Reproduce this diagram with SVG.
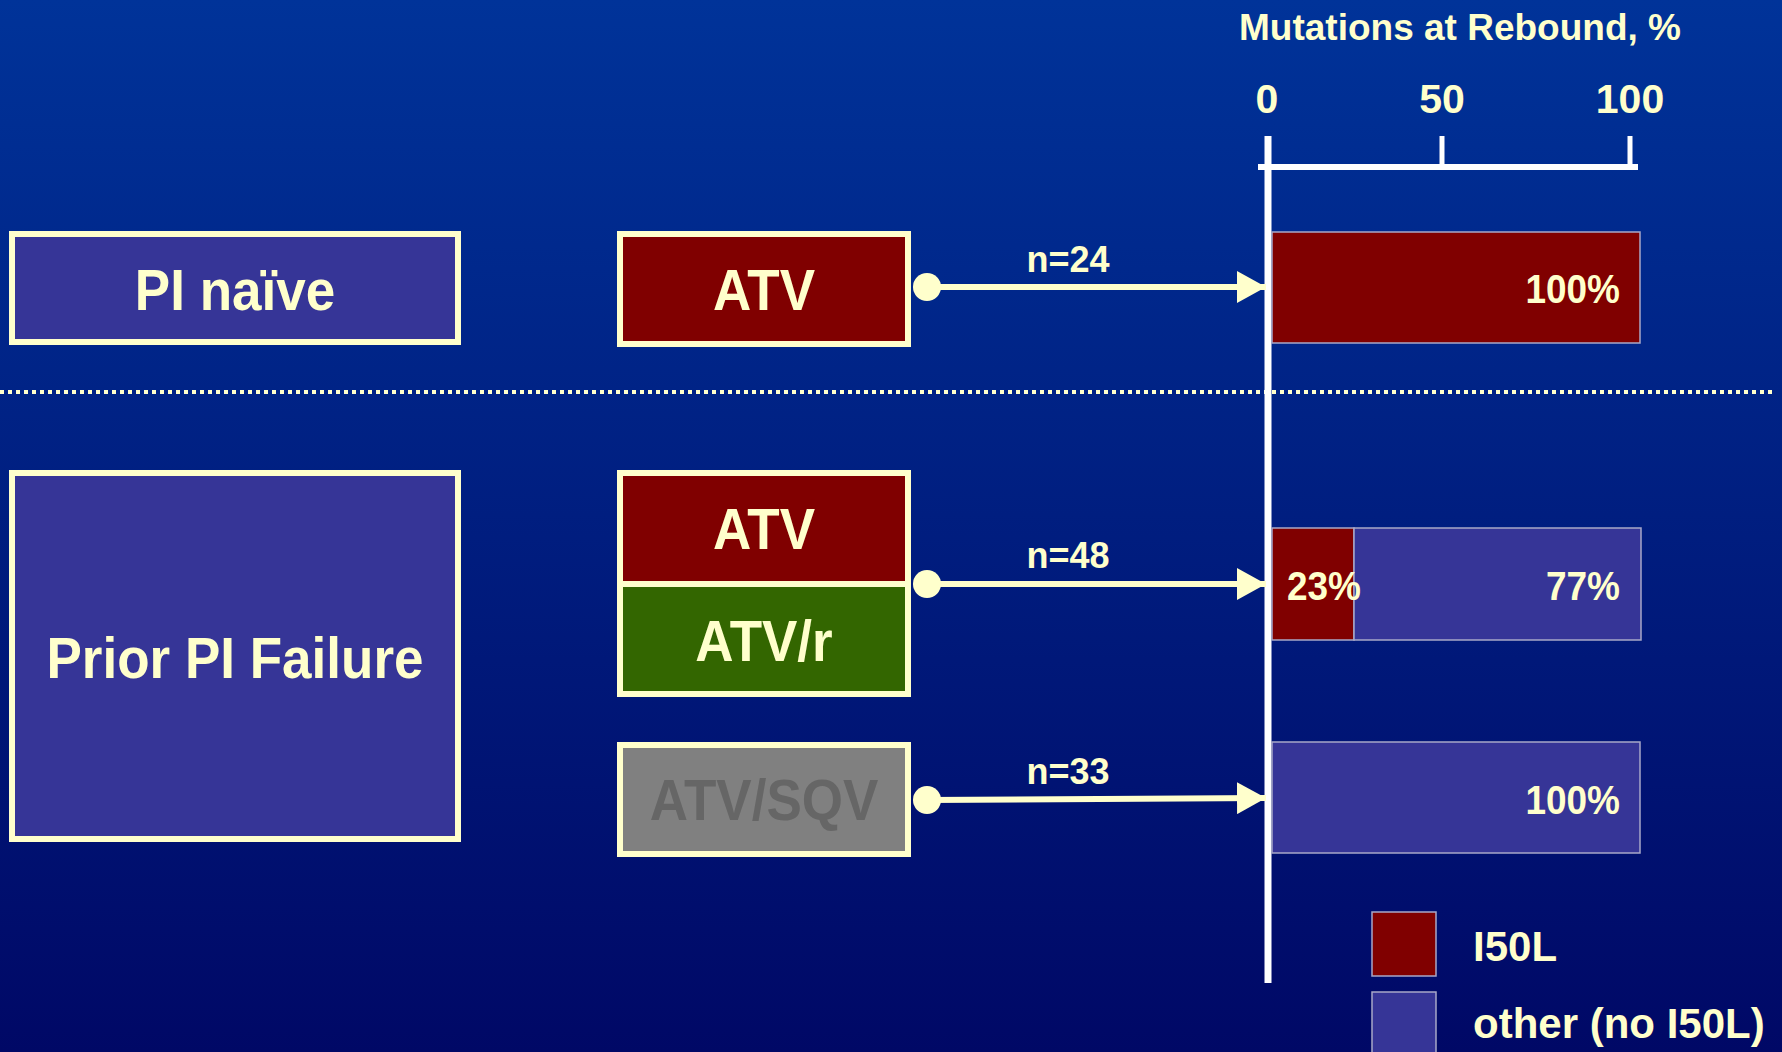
<svg xmlns="http://www.w3.org/2000/svg" width="1782" height="1052" viewBox="0 0 1782 1052">
<defs>
<linearGradient id="bg" x1="0" y1="0" x2="0" y2="1">
<stop offset="0" stop-color="#003399"/>
<stop offset="1" stop-color="#000866"/>
</linearGradient>
<marker id="arrow" markerUnits="userSpaceOnUse" markerWidth="30" markerHeight="32" refX="29" refY="16" orient="auto">
<polygon points="0,0 29,16 0,32" fill="#ffffcc"/>
</marker>
<style>
text{font-family:"Liberation Sans",Arial,sans-serif;font-weight:bold;fill:#ffffcc}
.box{stroke:#ffffcc;stroke-width:6}
.purple{fill:#363597}
.red{fill:#800000}
.green{fill:#336600}
.gray{fill:#808080}
.bar{stroke:#a8a8c8;stroke-width:1.5}
.big{font-size:53px;text-anchor:middle}
.pct{font-size:37px;text-anchor:end}
.n{font-size:36px;text-anchor:middle}
.axis{stroke:#ffffff;fill:none}
.conn{stroke:#ffffcc;stroke-width:6;fill:none}
.dot{fill:#ffffcc}
.leg{font-size:42px}
</style>
</defs>
<rect x="0" y="0" width="1782" height="1052" fill="url(#bg)"/>

<line x1="0" y1="392" x2="1772" y2="392" stroke="#ffffcc" stroke-width="4" stroke-dasharray="4 4"/>

<g id="axis">
<text x="1460" y="40" style="font-size:37px;text-anchor:middle">Mutations at Rebound, %</text>
<text x="1267" y="113" style="font-size:41px;text-anchor:middle">0</text>
<text x="1442" y="113" style="font-size:41px;text-anchor:middle">50</text>
<text x="1630" y="113" style="font-size:41px;text-anchor:middle">100</text>
<line class="axis" x1="1258" y1="167" x2="1638" y2="167" stroke-width="6"/>
<line class="axis" x1="1442" y1="136" x2="1442" y2="167" stroke-width="5"/>
<line class="axis" x1="1630" y1="136" x2="1630" y2="167" stroke-width="5"/>
<line class="axis" x1="1268" y1="136" x2="1268" y2="983" stroke-width="7"/>
</g>

<g id="pi-naive">
<rect class="box purple" x="12" y="234" width="446" height="108"/>
<text class="big" transform="translate(235,310) scale(1,1.08)">PI naïve</text>
</g>
<g id="atv-1">
<rect class="box red" x="620" y="234" width="288" height="110"/>
<text class="big" transform="translate(764,310) scale(1,1.08)">ATV</text>
</g>
<g id="prior-pi-failure">
<rect class="box purple" x="12" y="473" width="446" height="366"/>
<text class="big" transform="translate(235,678) scale(1,1.08)">Prior PI Failure</text>
</g>
<g id="atv-2">
<rect class="box red" x="620" y="473" width="288" height="111"/>
<text class="big" transform="translate(764,549) scale(1,1.08)">ATV</text>
</g>
<g id="atv-r">
<rect class="box green" x="620" y="584" width="288" height="110"/>
<text class="big" transform="translate(764,661) scale(1,1.08)">ATV/r</text>
</g>
<g id="atv-sqv">
<rect class="box gray" x="620" y="745" width="288" height="109"/>
<text class="big" transform="translate(764,820) scale(1,1.08)" style="fill:#666666">ATV/SQV</text>
</g>

<g id="bar-1">
<rect class="bar red" x="1272" y="232" width="368" height="111"/>
<text class="pct" transform="translate(1620,303) scale(1,1.1)">100%</text>
</g>
<g id="bar-2">
<rect class="bar red" x="1272" y="528" width="82" height="112"/>
<rect class="bar purple" x="1354" y="528" width="287" height="112"/>
<text class="pct" style="text-anchor:middle" transform="translate(1324,600) scale(1,1.1)">23%</text>
<text class="pct" transform="translate(1620,600) scale(1,1.1)">77%</text>
</g>
<g id="bar-3">
<rect class="bar purple" x="1272" y="742" width="368" height="111"/>
<text class="pct" transform="translate(1620,814) scale(1,1.1)">100%</text>
</g>

<g id="connectors">
<line class="conn" x1="927" y1="287" x2="1266" y2="287" marker-end="url(#arrow)"/>
<circle class="dot" cx="927" cy="287" r="14"/>
<text class="n" x="1068" y="272">n=24</text>
<line class="conn" x1="927" y1="584" x2="1266" y2="584" marker-end="url(#arrow)"/>
<circle class="dot" cx="927" cy="584" r="14"/>
<text class="n" x="1068" y="568">n=48</text>
<line class="conn" x1="927" y1="800" x2="1266" y2="798" marker-end="url(#arrow)"/>
<circle class="dot" cx="927" cy="800" r="14"/>
<text class="n" x="1068" y="784">n=33</text>
</g>

<g id="legend">
<rect class="bar red" x="1372" y="912" width="64" height="64"/>
<text class="leg" x="1473" y="961">I50L</text>
<rect class="bar purple" x="1372" y="992" width="64" height="70"/>
<text class="leg" x="1473" y="1038">other (no I50L)</text>
</g>
</svg>
